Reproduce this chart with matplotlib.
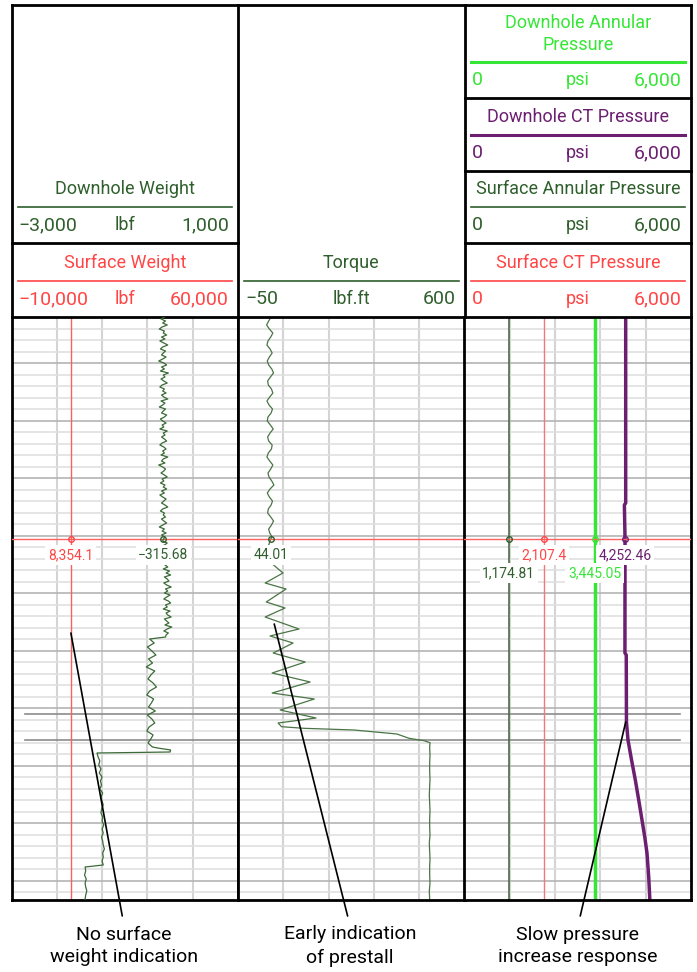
import matplotlib.pyplot as plt
import numpy as np

plt.rcParams['font.family'] = ['Roboto', 'DejaVu Sans']

W, H = 697, 972
RED = '#ff4545'
DKGREEN = '#2f5f2c'
LIME = '#36e636'
PURPLE = '#6c1f70'
TRACE_GREEN = '#3b6b37'

# time index runs 0 (top of log) .. 583 (bottom)
T_END = 583
CROSS_T = 222
EVENT_T = [397, 423]

# downhole weight (lbf); top part sampled every 2 steps, the rest every 4
dw_top = [-300, -360, -280, -330, -250, -340, -390, -300, -320, -260, -350, -290, -380, -310, -240, -330, -370, -280, -320, -350,
          -270, -330, -400, -310, -260, -350, -300, -370, -230, -320, -290, -360, -310, -250, -340, -380, -300, -330, -270, -350,
          -310, -240, -360, -290, -330, -390, -280, -320, -350, -260, -300, -370, -330, -270, -340, -310, -380, -250, -320, -290,
          -350, -300, -260, -340, -380, -310, -270, -330, -300, -360, -240, -320, -350, -290, -400, -330, -280, -310, -360, -300,
          -250, -340, -310, -370, -290, -320, -260, -350, -300, -380, -330, -270, -310, -350, -290, -240, -330, -370, -300, -320,
          -280, -350, -310, -260, -330, -390, -300, -340, -270, -350, -290, -316, -330, -250, -300, -360, -280, -320, -340, -290,
          -230, -300, -260, -180, -290, -240, -320, -210, -270, -190, -300, -250, -220, -310, -260, -180, -280, -240, -300, -200,
          -260, -310, -230, -190, -280, -250, -320, -200, -270, -240, -180, -300, -260, -220, -290, -170, -250, -310, -230, -270,
          -280]
dw_mid = [-560, -480, -600, -520, -450, -580, -510, -620, -470, -540,
          -590, -500, -440, -560, -610, -490, -530, -580, -460, -600,
          -520, -470, -570, -610, -500, -540, -590, -510]
dw_spike_t = [431, 433, 435]
dw_spike = [-420, -190, -200]
dw_low = [-1490, -1470, -1440, -1460, -1420, -1450, -1400, -1430, -1410, -1440,
          -1390, -1420, -1400, -1380, -1410, -1420, -1390, -1400, -1370, -1400,
          -1380, -1410, -1390, -1380, -1360, -1390, -1380, -1400, -1380]
dw_end = [-1700, -1690, -1710, -1680, -1700, -1690, -1670, -1690, -1700]

# surface weight (lbf)
sw_value = 8354.1

# torque (lbf.ft)
tq_top = [45, 38, 32, 40, 50, 44, 36, 33, 42, 48, 40, 34, 38, 47, 52, 43,
          35, 37, 46, 50, 41, 33, 39, 49, 45, 36, 34, 43, 51, 42, 35, 38,
          48, 46, 37, 33, 41, 50, 44, 36, 39, 47, 53, 42, 34, 40, 49, 45,
          37, 35, 44, 52, 46, 38, 41, 48]
tq_osc_t = [222, 228, 233, 238, 245, 256, 266, 272, 285, 291, 300, 312, 319,
            326, 336, 345, 356, 365, 376, 382, 393, 401, 406, 409.7, 411.3,
            413, 417, 421.3, 423.7, 425.7]
tq_osc = [44.01, 38, 58, 45, 42, 79, 28, 88, 31, 85, 28, 125, 42,
          108, 51, 143, 48, 157, 48, 169, 71, 174, 65, 75, 139,
          283, 406, 441, 484, 501]
tq_bot = [500, 501, 500, 500, 501, 500, 499, 500, 501, 500,
          500, 501, 499, 500, 501, 500, 500, 501, 499, 500]

# pressures (psi)
sap_value = 1174.81
sctp_value = 2107.4
dap_value = 3445.05
dct_t = [0, 186, 188, 222, 336, 338, 405, 423, 443, 463, 483, 503, 520, 536, 560, 583]
dct = [4270, 4270, 4235, 4252.46, 4250, 4285, 4290, 4331, 4425, 4525,
       4615, 4702, 4775, 4834, 4880, 4910]

# header entries: column, title, colour, scale min, scale max, unit
headers = [
    (0, 'Surface Weight', RED, -10000, 60000, 'lbf'),
    (0, 'Downhole Weight', DKGREEN, -3000, 1000, 'lbf'),
    (1, 'Torque', DKGREEN, -50, 600, 'lbf.ft'),
    (2, 'Surface CT Pressure', RED, 0, 6000, 'psi'),
    (2, 'Surface Annular Pressure', DKGREEN, 0, 6000, 'psi'),
    (2, 'Downhole CT Pressure', PURPLE, 0, 6000, 'psi'),
    (2, 'Downhole Annular\nPressure', LIME, 0, 6000, 'psi'),
]

notes = ['No surface\nweight indication', 'Early indication\nof prestall',
         'Slow pressure\nincrease response']


def fmt(v):
    return f'{v:,}'.replace('-', '\u2212')


COLS = [(11.5, 238), (238, 464.5), (464.5, 691)]
TOP, BOT = 317, 900


def rect(x0, x1, y0, y1):
    return [x0 / W, 1 - y1 / H, (x1 - x0) / W, (y1 - y0) / H]


fig = plt.figure(figsize=(W / 100, H / 100), dpi=100)

ax0 = fig.add_axes([0, 0, 1, 1], zorder=5)
ax0.set_xlim(0, W)
ax0.set_ylim(H, 0)
ax0.axis('off')
ax0.patch.set_alpha(0)


def make_track(col, lo, hi):
    x0, x1 = COLS[col]
    ax = fig.add_axes(rect(x0, x1, TOP, BOT))
    ax.set_xlim(lo, hi)
    ax.set_ylim(T_END, 0)
    ax.set_xticks([])
    ax.set_yticks([])
    for s in ax.spines.values():
        s.set_linewidth(2)
        s.set_color('black')
    for k in range(1, 5):
        ax.axvline(lo + (hi - lo) * k / 5, color='#d4d4d4', lw=1.5, zorder=0)
    for k in range(1, 51):
        t = 11.5 * k
        if t >= T_END:
            break
        c = '#b4b4b4' if k % 5 == 4 else '#e0e0e0'
        ax.axhline(t, color=c, lw=1.2, zorder=0)
    ax.axhline(CROSS_T, color='#ff6060', lw=1, zorder=3)
    return ax


ax_l = make_track(0, -10000, 60000)
ax_m = make_track(1, -50, 600)
ax_r = make_track(2, 0, 6000)

ax_l2 = ax_l.twiny()
ax_l2.set_xlim(-3000, 1000)
ax_l2.axis('off')

# event markers
for t in EVENT_T:
    ax_l.axhline(t, xmin=0.06, color='#8c8c8c', lw=1.2, zorder=1)
    ax_m.axhline(t, color='#8c8c8c', lw=1.2, zorder=1)
    ax_r.axhline(t, xmax=0.95, color='#8c8c8c', lw=1.2, zorder=1)

# left track
ax_l.plot([sw_value, sw_value], [0, T_END], color='#f06464', lw=1, zorder=2)
dw_t = np.concatenate([np.arange(0, 321, 2), np.arange(322, 431, 4), dw_spike_t,
                       np.arange(436, 549, 4), np.arange(550, 583, 4)])
dw = np.concatenate([dw_top, dw_mid, dw_spike, dw_low, dw_end])
ax_l2.plot(dw, dw_t, color=TRACE_GREEN, lw=0.9, zorder=2)

# middle track
tq_t = np.concatenate([np.arange(0, 221, 4), tq_osc_t, np.arange(430, 583, 8)])
tq = np.concatenate([tq_top, tq_osc, tq_bot])
ax_m.plot(tq, tq_t, color='#4a7545', lw=0.9, zorder=2)

# right track
ax_r.plot([sap_value] * 2, [0, T_END], color='#4d6b4a', lw=1.2, zorder=2)
ax_r.plot([sctp_value] * 2, [0, T_END], color='#f07a7a', lw=1, zorder=2)
ax_r.plot([dap_value] * 2, [0, T_END], color=LIME, lw=2.5, zorder=2)
ax_r.plot(dct, dct_t, color=PURPLE, lw=2.5, zorder=2)

# crosshair readouts
readouts = [
    (ax_l, sw_value, RED, 0),
    (ax_l2, -315.68, DKGREEN, 0),
    (ax_m, 44.01, DKGREEN, 0),
    (ax_r, sctp_value, RED, 0),
    (ax_r, 4252.46, PURPLE, 0),
    (ax_r, sap_value, DKGREEN, 1),
    (ax_r, dap_value, LIME, 1),
]
for ax, v, c, row in readouts:
    ax.plot(v, CROSS_T, 'o', ms=4, mfc='none', mec=c, mew=1, zorder=4)
    ax.text(v, CROSS_T + 16 + 18 * row, fmt(v), color=c, fontsize=10,
            ha='center', va='center', zorder=5,
            bbox=dict(facecolor='white', edgecolor='none', pad=2))

# header frame
ax0.plot([COLS[0][0], COLS[2][1]], [5, 5], color='black', lw=2)
for x in [COLS[0][0], COLS[1][0], COLS[2][0], COLS[2][1]]:
    ax0.plot([x, x], [5, TOP], color='black', lw=2)

block_bottoms = [317, 243, 317, 317, 243, 171, 98]
for (col, title, c, lo, hi, unit), yb in zip(headers, block_bottoms):
    x0, x1 = COLS[col]
    xc = (x0 + x1) / 2
    if yb < TOP:
        ax0.plot([x0, x1], [yb, yb], color='black', lw=2)
    ty = yb - 64 if '\n' in title else yb - 54
    ax0.text(xc, ty, title, color=c, fontsize=13, ha='center', va='center',
             linespacing=1.25)
    ax0.plot([x0 + 6, x1 - 6], [yb - 36, yb - 36], color=c,
             lw=2.2 if c in (LIME, PURPLE) else 1.2)
    sy = yb - 18
    ax0.text(x0 + 7, sy, fmt(lo), color=c, fontsize=14, ha='left', va='center')
    ax0.text(xc, sy, unit, color=c, fontsize=13, ha='center', va='center')
    ax0.text(x1 - 9, sy, fmt(hi), color=c, fontsize=14, ha='right', va='center')

# callouts
targets = [(ax_l, sw_value, 316), (ax_m, 54, 307), (ax_r, 4270, 405)]
note_x = [124, 350, 578]
for (ax, v, t), txt, nx in zip(targets, notes, note_x):
    ax0.annotate(txt, xy=(v, t), xycoords=ax.transData, xytext=(nx, 946),
                 textcoords='data', ha='center', va='center', fontsize=14,
                 linespacing=1.35, color='black',
                 arrowprops=dict(arrowstyle='-', color='black', lw=1.2,
                                 relpos=(0.5, 1), shrinkA=5, shrinkB=0))

fig.savefig('out.png', dpi=100)
